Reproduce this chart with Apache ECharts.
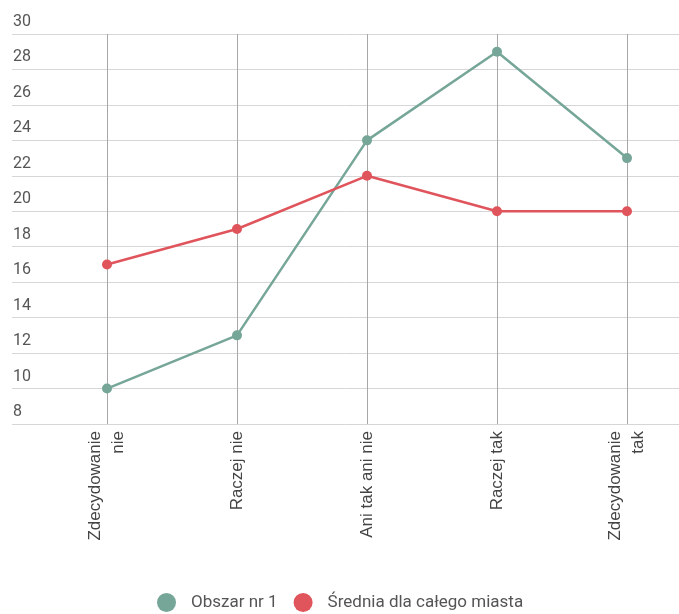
<!DOCTYPE html>
<html>
<head>
<meta charset="utf-8">
<script src="https://cdn.jsdelivr.net/npm/echarts@6/dist/echarts.min.js"></script>
<style>
html,body{margin:0;padding:0;background:#fff;}
#c{width:679px;height:614px;}
</style>
</head>
<body>
<div id="c"></div>
<script>
const categories = ['Zdecydowanie\nnie', 'Raczej nie', 'Ani tak ani nie', 'Raczej tak', 'Zdecydowanie\ntak'];
const seriesNames = ['Obszar nr 1', 'Średnia dla całego miasta'];
const obszar = [10, 13, 24, 29, 23];
const srednia = [17, 19, 22, 20, 20];
const yMin = 8, yMax = 30, yStep = 2;

const chart = echarts.init(document.getElementById('c'));
chart.setOption({
  backgroundColor: '#ffffff',
  animation: false,
  grid: [
    { left: 107, right: 52, top: 34, bottom: 190 },
    { left: 12, right: 0, top: 34, bottom: 190 }
  ],
  xAxis: [
    {
      type: 'category', gridIndex: 0, data: categories, boundaryGap: false,
      axisLine: { show: false },
      axisTick: { show: false },
      splitLine: { show: true, lineStyle: { color: '#a8a8a8', width: 1 } },
      axisLabel: {
        rotate: 90, margin: 7, interval: 0,
        fontFamily: 'Liberation Sans', fontSize: 17, color: '#444', lineHeight: 23
      }
    },
    { type: 'value', gridIndex: 1, show: false, min: 0, max: 1 }
  ],
  yAxis: [
    { type: 'value', gridIndex: 0, min: yMin, max: yMax, interval: yStep, show: false, splitLine: { show: false } },
    {
      type: 'value', gridIndex: 1, min: yMin, max: yMax, interval: yStep,
      axisLine: { show: false }, axisTick: { show: false },
      splitLine: { show: true, lineStyle: { color: '#d6d6d6', width: 1 } },
      axisLabel: {
        inside: true, margin: 1, align: 'left', verticalAlign: 'bottom',
        padding: [0, 0, 4, 0],
        fontFamily: 'Roboto', fontSize: 16, color: '#555'
      }
    }
  ],
  legend: {
    left: 152, top: 588, itemWidth: 19, itemHeight: 19, itemGap: 16, icon: 'circle',
    data: seriesNames,
    textStyle: { fontFamily: 'Roboto', fontSize: 17, color: '#555', padding: [0, 0, 0, 10] }
  },
  series: [
    {
      name: seriesNames[0], type: 'line', xAxisIndex: 0, yAxisIndex: 0, data: obszar,
      symbol: 'circle', symbolSize: 10,
      itemStyle: { color: '#76a698' }, lineStyle: { color: '#76a698', width: 2.5 }, z: 3
    },
    {
      name: seriesNames[1], type: 'line', xAxisIndex: 0, yAxisIndex: 0, data: srednia,
      symbol: 'circle', symbolSize: 10,
      itemStyle: { color: '#e0545c' }, lineStyle: { color: '#e0545c', width: 2.5 }, z: 3
    }
  ]
});
</script>
</body>
</html>
